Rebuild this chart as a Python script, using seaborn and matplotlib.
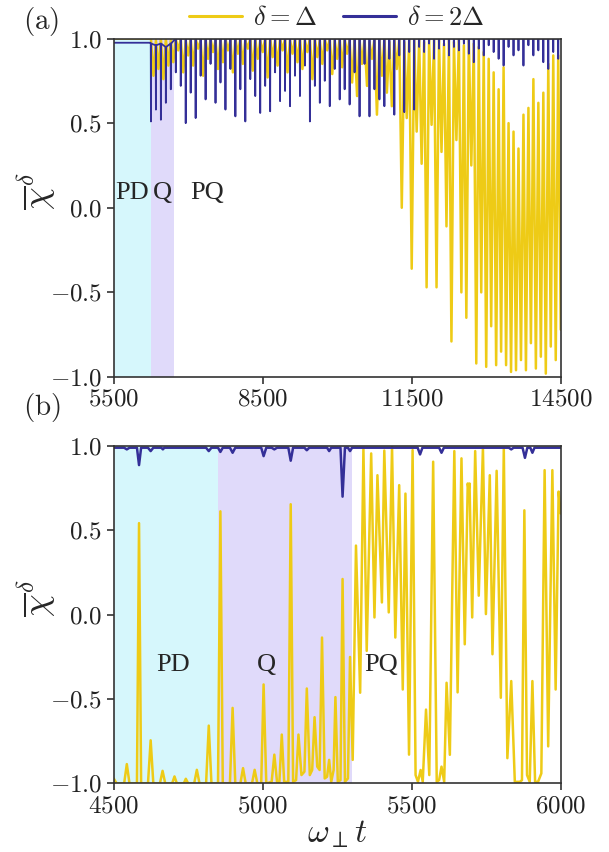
import numpy as np
import matplotlib
matplotlib.use("Agg")
import matplotlib.pyplot as plt
from matplotlib.lines import Line2D
import seaborn as sns

# ---------------- data ----------------
# panel (a): PD plateau, then samples on a uniform grid (step 50), alternating high/low
pd_t_a = [5500.0, 6240.0]
yellow_a_pd = [1.0, 1.0]
blue_a_pd = [0.975, 0.975]

yellow_a_hi = [1.0, 0.99, 1.0, 1.0, 0.99, 1.0, 1.0, 0.99, 1.0, 1.0,
               0.99, 1.0, 1.0, 0.99, 1.0, 1.0, 0.99, 1.0, 1.0, 0.99,
               1.0, 1.0, 0.99, 1.0, 1.0, 0.99, 1.0, 1.0, 0.99, 1.0,
               1.0, 0.99, 1.0, 1.0, 0.99, 1.0, 1.0, 0.99, 1.0, 1.0,
               0.99,
               1.0, 0.99, 1.0, 0.98, 1.0, 0.99, 1.0, 0.98, 1.0, 1.0,
               0.98, 1.0, 0.99, 1.0, 0.98, 1.0, 0.99, 1.0, 0.97, 1.0,
               0.98, 1.0, 0.96, 1.0, 0.97, 0.95, 0.92, 0.88, 0.80, 0.70,
               0.83, 0.50, 0.45, 0.35, 0.55, 0.59, 0.76, 0.62, 0.68, 0.85,
               0.90, 0.90]
yellow_a_lo = [0.78, 0.82, 0.76, 0.84,
               0.86, 0.93, 0.80, 0.90, 0.84, 0.94, 0.78, 0.88, 0.92, 0.82,
               0.86, 0.93, 0.80, 0.91, 0.85, 0.94, 0.81, 0.88, 0.92, 0.77,
               0.89, 0.84, 0.93, 0.80, 0.91, 0.86, 0.82, 0.92, 0.76, 0.89,
               0.85, 0.93, 0.79, 0.88, 0.83, 0.91, 0.74,
               0.66, 0.85, 0.72, 0.88, 0.55, 0.78, 0.68, 0.60, 0.82, 0.0,
               0.53, -0.36, 0.45, 0.26, -0.47, 0.49, -0.47, 0.33, -0.11, -0.79,
               0.40, -0.50, -0.65, 0.25, -0.92, -0.50, -0.94, -0.70, -0.93, -0.85,
               -0.93, -0.97, -0.96, -0.90, -0.96, -0.80, -0.95, -0.88, -0.98, -0.82,
               -0.90, -0.72]

# blue in panel (a): one narrow dip per 100 time units (baseline, dip depth)
blue_a_base = [0.97, 0.96, 0.97, 0.95, 0.97,
               1.0, 1.0, 1.0, 1.0, 1.0, 1.0, 1.0, 1.0, 1.0, 1.0,
               1.0, 1.0, 1.0, 1.0, 1.0, 1.0, 1.0, 1.0, 1.0, 1.0,
               1.0, 1.0, 1.0, 1.0, 1.0, 1.0, 1.0, 1.0, 1.0, 1.0,
               1.0, 1.0, 1.0, 1.0, 1.0, 1.0, 1.0, 1.0, 1.0, 1.0,
               1.0, 1.0, 1.0, 1.0, 1.0, 1.0, 1.0, 1.0, 1.0,
               1.0, 1.0, 1.0, 1.0, 1.0, 1.0, 1.0, 1.0, 1.0, 1.0,
               1.0, 1.0, 1.0, 1.0, 1.0, 1.0, 1.0, 1.0, 1.0, 1.0,
               1.0, 1.0, 1.0, 1.0, 1.0, 1.0, 1.0, 1.0, 1.0]
blue_a_dip = [0.51, 0.58, 0.52, 0.62, 0.70,
              0.80, 0.72, 0.50, 0.68, 0.53, 0.78, 0.64, 0.85, 0.62, 0.74,
              0.58, 0.82, 0.54, 0.70, 0.51, 0.76, 0.66, 0.56, 0.72, 0.57,
              0.80, 0.63, 0.69, 0.60, 0.78, 0.66, 0.84, 0.51, 0.72, 0.62,
              0.75, 0.60, 0.82, 0.64, 0.70, 0.61, 0.80,
              0.54, 0.85, 0.54, 0.70, 0.64, 0.60, 0.88, 0.55, 0.90, 0.565,
              0.92, 0.58,
              0.95, 0.92, 0.97, 0.88, 0.94, 0.96, 0.90, 0.95, 0.93, 0.97,
              0.91, 0.86, 0.94, 0.90, 0.96, 0.92, 0.88, 0.84, 0.95, 0.90,
              0.93, 0.84, 0.96, 0.90, 0.93, 0.86, 0.82, 0.92, 0.88]

# panel (b): (time, value) nodes
yellow_b_t = [4500, 4510, 4535, 4544, 4553, 4578, 4585, 4592, 4615, 4624, 4633, 4655, 4664, 4673,
              4696, 4704, 4712, 4735, 4742, 4750, 4770, 4779, 4788, 4810, 4819, 4828, 4850, 4858,
              4866, 4890, 4899, 4908, 4925, 4934, 4943, 4964, 4973, 4982, 4995, 5003, 5012, 5030,
              5039, 5048, 5056, 5064, 5072, 5086, 5094, 5102, 5112, 5120, 5130, 5140, 5148, 5158,
              5166, 5174, 5183, 5191, 5199, 5208, 5216, 5223, 5230, 5238, 5244, 5252, 5261, 5268,
              5276, 5286, 5293, 5302, 5313, 5327, 5338, 5349, 5364, 5375, 5385, 5400, 5408, 5423,
              5434, 5445, 5458, 5470, 5479, 5491, 5503, 5513, 5521, 5530, 5537, 5548, 5559, 5572,
              5584, 5592, 5600, 5609, 5617, 5628, 5643, 5654, 5667, 5678, 5688, 5691, 5694, 5703,
              5713, 5725, 5739, 5749, 5762, 5771, 5785, 5799, 5809, 5821, 5834, 5846, 5855, 5863,
              5870, 5878, 5887, 5896, 5905, 5914, 5924, 5935, 5946, 5958, 5972, 5983, 5993, 6000]
yellow_b_v = [-0.97, -1.0, -1.0, -0.885, -1.0, -1.0, 0.543, -1.0, -1.0, -0.744, -1.0, -1.0, -0.925, -1.0,
              -1.0, -0.958, -1.0, -1.0, -0.972, -1.0, -1.0, -0.919, -1.0, -1.0, -0.657, -1.0, -1.0, 0.613,
              -1.0, -1.0, -0.552, -1.0, -1.0, -0.909, -1.0, -1.0, -0.919, -1.0, -1.0, -0.413, -1.0, -0.99,
              -0.829, -0.99, -0.99, -0.71, -0.99, -0.99, 0.655, -0.99, -0.98, -0.71, -0.95, -0.93, -0.437, -0.95,
              -0.92, -0.607, -0.90, -0.92, -0.135, -0.97, -0.96, -0.86, -0.99, -0.92, -0.488, -0.99, -0.98, 0.212,
              -0.99, -0.97, -0.25, -0.86, 0.41, -0.462, 0.986, -0.214, 0.956, -0.016, 0.827, 0.073, 0.973, 0.014,
              0.996, -0.135, 0.768, -0.443, 0.718, -0.829, 0.976, -0.95, -0.99, -0.92, -0.99, -0.562, -0.95, 0.907,
              -0.99, -0.98, -0.90, -0.99, -0.403, -0.83, 0.97, -0.46, 0.927, -0.175, 0.778, 0.74, 0.778, -0.016,
              0.97, 0.113, 0.99, 0.004, 0.827, -0.234, 0.853, -0.492, 0.986, -0.85, -0.393, -0.99, -0.99, -0.99,
              -0.98, 0.619, -0.95, -0.99, -0.393, -0.99, -0.99, -0.94, 0.857, -0.78, 0.857, -0.443, 0.73, 0.60]

blue_b_t = [4500, 4535, 4544, 4553, 4578, 4585, 4592, 4615, 4624, 4633, 4660, 4665, 4670, 4810,
            4819, 4828, 4850, 4858, 4866, 4890, 4899, 4908, 4995, 5003, 5012, 5030, 5039, 5048,
            5086, 5094, 5102, 5140, 5148, 5156, 5216, 5223, 5230, 5261, 5268, 5276, 5286, 5293,
            5300, 5520, 5528, 5536, 5592, 5600, 5608, 5826, 5834, 5842, 5872, 5880, 5888, 5898,
            5905, 5912, 6000]
blue_b_v = [0.99, 0.99, 0.98, 0.99, 0.99, 0.887, 0.99, 0.99, 0.97, 0.99, 0.99, 0.98, 0.99, 0.99,
            0.97, 0.99, 0.99, 0.965, 0.99, 0.99, 0.96, 0.99, 0.99, 0.94, 0.99, 0.99, 0.98, 0.99,
            0.99, 0.913, 0.99, 0.99, 0.975, 0.99, 0.99, 0.97, 0.99, 0.99, 0.70, 0.99, 0.99, 0.97,
            0.99, 0.99, 0.95, 0.99, 0.99, 0.96, 0.99, 0.99, 0.98, 0.99, 0.99, 0.93, 0.99, 0.99,
            0.96, 0.99, 0.99]

regions_a = [(5500, 6245, "PD"), (6245, 6705, "Q")]
regions_b = [(4500, 4850, "PD"), (4850, 5300, "Q")]
labels_a = [("PD", 5862, 0.09), ("Q", 6482, 0.09), ("PQ", 7390, 0.09)]
labels_b = [("PD", 4699, -0.30), ("Q", 5013, -0.30), ("PQ", 5398, -0.30)]
xticks_a = [5500, 8500, 11500, 14500]
xticks_b = [4500, 5000, 5500, 6000]
yticks = [-1.0, -0.5, 0.0, 0.5, 1.0]

# ---------------- style ----------------
YEL = "#EECB16"
BLU = "#342F98"
CYAN = "#D6F7FC"
PURP = "#E0DAFA"
LW = 1.8
LW_SPIKE = 1.3

sns.set_style("ticks")
plt.rcParams["mathtext.fontset"] = "cm"
plt.rcParams["font.family"] = ["Liberation Serif", "DejaVu Serif"]

fig = plt.figure(figsize=(6.09, 8.52), dpi=100)
ax1 = fig.add_axes([0.1867, 0.5575, 0.734, 0.3973])
ax2 = fig.add_axes([0.1867, 0.0804, 0.734, 0.3961])

# build panel (a) series
grid_a = np.arange(6250, 14501, 50).astype(float)
t_ya = np.concatenate([pd_t_a, grid_a])
ya = np.empty(len(grid_a)); ya[0::2] = yellow_a_hi; ya[1::2] = yellow_a_lo
ya = np.concatenate([yellow_a_pd, ya])

# blue dips sit where the yellow curve is near its top (vertical spikes)
dip_c = 6250 + 100 * np.arange(len(blue_a_dip))
bt, bv = list(pd_t_a), list(blue_a_pd)
for c, base, dip in zip(dip_c, blue_a_base, blue_a_dip):
    bt += [c - 4, c, c + 4]
    bv += [base, dip, base]

def style_axis(ax, xticks, xlim):
    ax.set_xlim(*xlim)
    ax.set_ylim(-1.0, 1.0)
    ax.set_xticks(xticks)
    ax.set_xticklabels([f"${v}$" for v in xticks])
    ax.set_yticks(yticks)
    ax.set_yticklabels([f"${v:.1f}$" for v in yticks])
    ax.tick_params(direction="out", length=5, width=1.1, labelsize=18, colors="#222222")
    for s in ax.spines.values():
        s.set_visible(True)
        s.set_color("#333333")
        s.set_linewidth(1.2)
        s.set_zorder(6)
    ax.set_ylabel(r"$\overline{\chi}^{\delta}$", fontsize=26)
    ax.yaxis.set_label_coords(-0.125, 0.55)

# panel (a)
for x0, x1, lab in regions_a:
    ax1.axvspan(x0, x1, color=CYAN if lab == "PD" else PURP, lw=0, zorder=0)
sns.lineplot(x=t_ya, y=ya, ax=ax1, color=YEL, lw=LW, estimator=None, sort=False, zorder=2)
sns.lineplot(x=bt, y=bv, ax=ax1, color=BLU, lw=LW_SPIKE, estimator=None, sort=False, zorder=3)
for lab, x, y in labels_a:
    ax1.text(x, y, lab, fontsize=19, ha="center", va="center", zorder=5)
style_axis(ax1, xticks_a, (5500, 14500))
ax1.set_xlabel("")

# panel (b)
for x0, x1, lab in regions_b:
    ax2.axvspan(x0, x1, color=CYAN if lab == "PD" else PURP, lw=0, zorder=0)
sns.lineplot(x=yellow_b_t, y=yellow_b_v, ax=ax2, color=YEL, lw=LW, estimator=None, sort=False, zorder=2)
sns.lineplot(x=blue_b_t, y=blue_b_v, ax=ax2, color=BLU, lw=LW, estimator=None, sort=False, zorder=3)
for lab, x, y in labels_b:
    ax2.text(x, y, lab, fontsize=19, ha="center", va="center", zorder=5)
style_axis(ax2, xticks_b, (4500, 6000))
ax2.set_xlabel(r"$\omega_{\perp}t$", fontsize=24, labelpad=1)

fig.text(23/609, 1 - 21/852, r"$\mathrm{(a)}$", fontsize=21, va="center", ha="left")
fig.text(23/609, 1 - 407/852, r"$\mathrm{(b)}$", fontsize=21, va="center", ha="left")

handles = [Line2D([], [], color=YEL, lw=2.2), Line2D([], [], color=BLU, lw=2.2)]
fig.legend(handles=handles, labels=[r"$\delta=\Delta$", r"$\delta=2\Delta$"],
           loc="center", bbox_to_anchor=(0.553, 0.979), ncol=2, frameon=False,
           fontsize=19, handlelength=2.0, columnspacing=1.0, handletextpad=0.4,
           borderpad=0.1)

fig.savefig("out.png", dpi=100)
